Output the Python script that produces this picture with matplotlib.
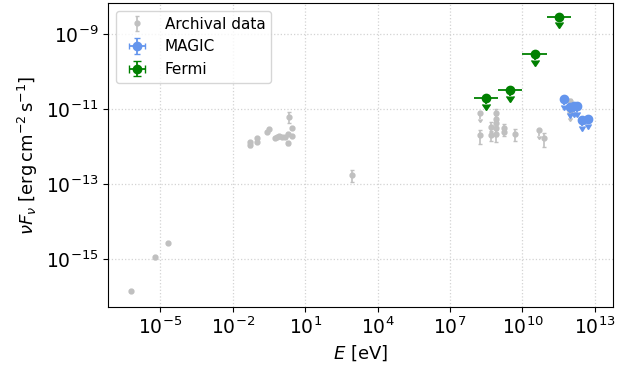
import numpy as np
import matplotlib
matplotlib.use("Agg")
import matplotlib.pyplot as plt
from matplotlib.ticker import NullLocator

# Archival multiwavelength data (energy in eV, nuFnu in erg cm^-2 s^-1)
arch_E = [6.2e-7, 6.0e-6, 2.1e-5,
          5.2e-2, 5.2e-2, 0.10, 0.10, 0.26, 0.33, 0.58, 0.68, 0.85, 1.07,
          1.5, 1.86, 1.86, 2.8, 2.8, 2.05,
          890.0,
          1.7e8, 1.7e8, 5.2e8, 5.2e8, 8.3e8, 8.3e8, 8.3e8, 8.3e8, 8.3e8,
          1.7e9, 1.7e9, 4.8e9, 4.8e10, 7.6e10, 8.9e11, 8.9e11]
arch_F = [1.4e-16, 1.1e-15, 2.7e-15,
          1.35e-12, 1.1e-12, 1.66e-12, 1.35e-12, 2.45e-12, 2.9e-12, 1.66e-12,
          1.8e-12, 1.9e-12, 1.8e-12, 1.8e-12, 2.2e-12, 1.23e-12, 3.2e-12,
          1.9e-12, 6.2e-12,
          1.74e-13,
          7.8e-12, 2.0e-12, 3.4e-12, 2.0e-12, 7.8e-12, 5.6e-12, 4.2e-12,
          3.1e-12, 2.2e-12, 3.2e-12, 2.5e-12, 2.2e-12, 2.75e-12, 1.66e-12,
          1.6e-11, 8.5e-12]
arch_Ferr = [0.1e-16, 0.1e-15, 0.2e-15,
             0.1e-12, 0.1e-12, 0.1e-12, 0.1e-12, 0.15e-12, 0.2e-12, 0.1e-12,
             0.1e-12, 0.1e-12, 0.1e-12, 0.1e-12, 0.15e-12, 0.1e-12, 0.2e-12,
             0.1e-12, 2.0e-12,
             0.6e-13,
             3.0e-12, 0.8e-12, 1.0e-12, 0.6e-12, 2.5e-12, 1.5e-12, 1.5e-12,
             1.2e-12, 0.9e-12, 0.8e-12, 0.6e-12, 0.8e-12, 1.0e-12, 0.7e-12,
             3.0e-12, 3.0e-12]
arch_UL = [False, False, False,
           False, False, False, False, False, False, False, False, False,
           False, False, False, False, False, False, False,
           False,
           True, False, False, False, False, False, False, False, False,
           False, False, False, True, False, False, True]

# Fermi-LAT upper limits
fermi_E = [3.16e8, 3.16e9, 3.16e10, 3.16e11]
fermi_Elo = [1e8, 1e9, 1e10, 1e11]
fermi_Ehi = [1e9, 1e10, 1e11, 1e12]
fermi_F = [2.0e-11, 3.2e-11, 2.95e-10, 2.95e-9]

# MAGIC upper limits
magic_E = [5.1e11, 8.9e11, 1.35e12, 1.74e12, 2.95e12, 5.1e12]
magic_F = [1.86e-11, 1.15e-11, 1.23e-11, 1.23e-11, 5.1e-12, 5.6e-12]

fig = plt.figure(figsize=(6.3, 3.69), dpi=100)
ax = fig.add_axes([0.1714, 0.168, 0.8016, 0.8238])

arch_E = np.array(arch_E)
arch_F = np.array(arch_F)
arch_Ferr = np.array(arch_Ferr)
arch_UL = np.array(arch_UL)

ax.errorbar(arch_E, arch_F, yerr=np.where(arch_UL, 0.3 * arch_F, arch_Ferr),
            uplims=arch_UL, fmt="o", color="silver", ms=3.5, capsize=1.5,
            elinewidth=1.2, label="Archival data", zorder=2)

fermi_E = np.array(fermi_E)
fermi_F = np.array(fermi_F)
ax.errorbar(fermi_E, fermi_F,
            xerr=[fermi_E - np.array(fermi_Elo), np.array(fermi_Ehi) - fermi_E],
            yerr=0.3 * fermi_F, uplims=True, fmt="o", color="green", ms=6,
            elinewidth=1.3, capsize=0, label="Fermi", zorder=3)

magic_E = np.array(magic_E)
magic_F = np.array(magic_F)
ax.errorbar(magic_E, magic_F, xerr=0.04 * magic_E, yerr=0.3 * magic_F,
            uplims=True, fmt="o", color="cornflowerblue", ms=6,
            elinewidth=1.3, capsize=2.5, label="MAGIC", zorder=3)

ax.set_xscale("log")
ax.set_yscale("log")
ax.set_xlim(6.8e-8, 5.6e13)
ax.set_ylim(5.2e-17, 6.8e-9)
ax.set_xticks([1e-5, 1e-2, 1e1, 1e4, 1e7, 1e10, 1e13])
ax.set_yticks([1e-15, 1e-13, 1e-11, 1e-9])
ax.xaxis.set_minor_locator(NullLocator())
ax.yaxis.set_minor_locator(NullLocator())
ax.tick_params(labelsize=13.5)
ax.grid(True, linestyle=":", color="lightgray", linewidth=0.9)
ax.set_axisbelow(True)

ax.set_xlabel(r"$E$ [eV]", fontsize=13)
ax.set_ylabel(r"$\nu F_\nu\ [\mathrm{erg\,cm^{-2}\,s^{-1}}]$", fontsize=13)

handles, labels = ax.get_legend_handles_labels()
order = [labels.index(l) for l in ["Archival data", "MAGIC", "Fermi"]]
ax.legend([handles[i] for i in order], [labels[i] for i in order],
          loc="upper left", fontsize=11)

fig.savefig("out.png", dpi=100)
